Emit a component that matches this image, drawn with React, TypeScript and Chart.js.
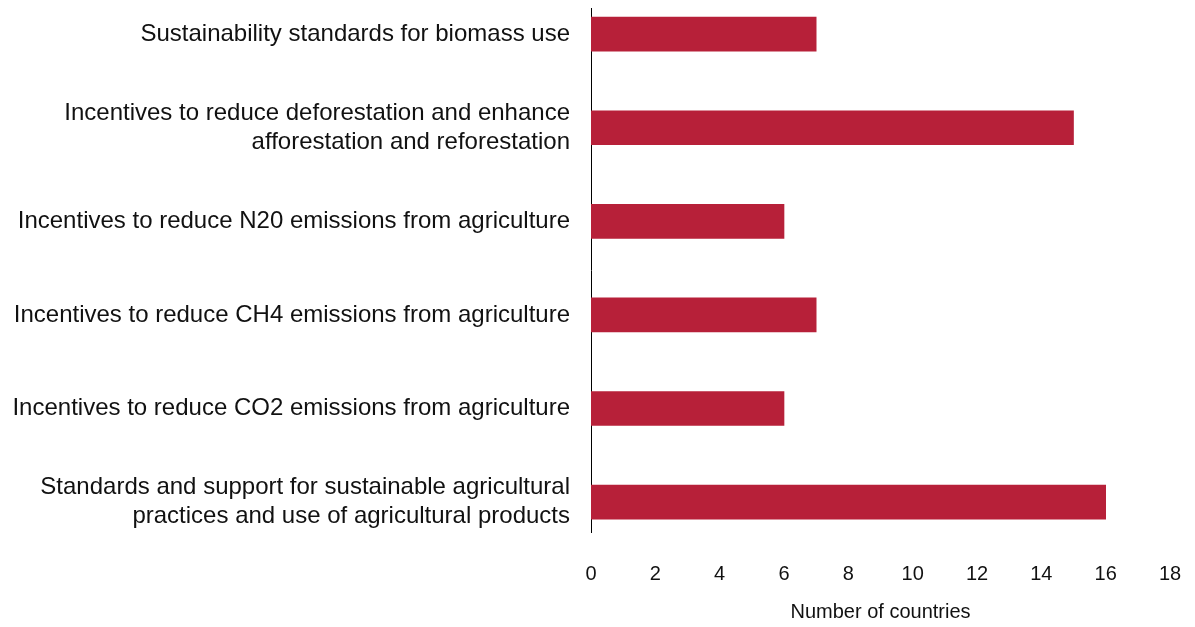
import React, { useEffect, useRef } from "react";
import { Chart, registerables } from "chart.js";

Chart.register(...registerables);

const categories: (string | string[])[] = [
  "Sustainability standards for biomass use",
  ["Incentives to reduce deforestation and enhance", "afforestation and reforestation"],
  "Incentives to reduce N20 emissions from agriculture",
  "Incentives to reduce CH4 emissions from agriculture",
  "Incentives to reduce CO2 emissions from agriculture",
  ["Standards and support for sustainable agricultural", "practices and use of agricultural products"],
];
const countries = [7, 15, 6, 7, 6, 16];
const xTicks = [0, 2, 4, 6, 8, 10, 12, 14, 16, 18];

const BAR_COLOR = "#B72039";
const FONT = "'Liberation Sans', Arial, Helvetica, sans-serif";

export default function App() {
  const ref = useRef<HTMLCanvasElement | null>(null);

  useEffect(() => {
    document.body.style.margin = "0";
    const canvas = ref.current;
    if (!canvas) return;
    const chart = new Chart(canvas, {
      type: "bar",
      data: {
        datasets: [
          {
            data: countries.map((v, i) => ({ x: v, y: i })),
            backgroundColor: BAR_COLOR,
            barThickness: 34,
          },
        ],
      },
      options: {
        indexAxis: "y",
        animation: false,
        responsive: false,
        layout: { padding: { top: 8, right: 25, left: 0, bottom: 0 } },
        plugins: { legend: { display: false }, tooltip: { enabled: false } },
        scales: {
          x: {
            type: "linear",
            min: 0,
            max: 18,
            afterBuildTicks: (scale: any) => {
              scale.ticks = xTicks.map((v) => ({ value: v }));
            },
            afterFit: (scale: any) => {
              scale.height = 95;
              scale.paddingLeft = 0;
              scale.paddingRight = 0;
            },
            grid: { display: false, drawTicks: false },
            border: { display: false },
            ticks: {
              padding: 30,
              color: "#111",
              font: { family: FONT, size: 20 },
              maxRotation: 0,
            },
            title: {
              display: true,
              text: "Number of countries",
              color: "#111",
              font: { family: FONT, size: 20 },
              padding: { top: 0, bottom: 3 },
            },
          },
          y: {
            type: "linear",
            offset: false,
            reverse: true,
            min: -0.28,
            max: 5.32,
            afterBuildTicks: (scale: any) => {
              scale.ticks = categories.map((_, i) => ({ value: i }));
            },
            afterFit: (scale: any) => {
              scale.width = 591;
              scale.paddingTop = 0;
              scale.paddingBottom = 0;
            },
            grid: { display: false, drawTicks: false },
            border: { display: true, color: "#000", width: 1 },
            ticks: {
              padding: 21,
              color: "#111",
              font: { family: FONT, size: 24, lineHeight: 1.2 },
              callback: (value: any) => categories[Number(value)] ?? "",
            },
          },
        },
      } as any,
    });
    return () => chart.destroy();
  }, []);

  return <canvas ref={ref} width={1195} height={627} style={{ display: "block" }} />;
}
